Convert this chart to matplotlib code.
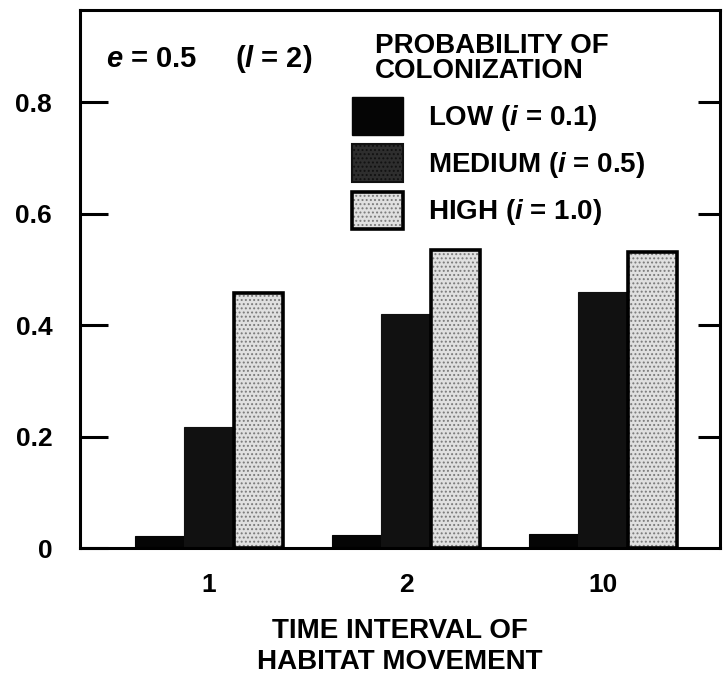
#!/usr/bin/env python3
"""Occupancy vs. time interval of habitat movement, grouped bars (e = 0.5, l = 2)."""

import matplotlib
matplotlib.use("Agg")
import matplotlib.pyplot as plt
import numpy as np
from matplotlib.legend_handler import HandlerTuple

# ── Data ──────────────────────────────────────────────────────────────────────
intervals    = ["1", "2", "10"]
low_vals     = [0.021, 0.024, 0.026]     # i = 0.1
medium_vals  = [0.217, 0.420, 0.460]     # i = 0.5
high_vals    = [0.457, 0.535, 0.531]     # i = 1.0
y_ticks      = [0, 0.2, 0.4, 0.6, 0.8]
y_ticklabels = ["0", "0.2", "0.4", "0.6", "0.8"]

# ── Style ─────────────────────────────────────────────────────────────────────
plt.rcParams["font.family"] = ["Liberation Sans", "DejaVu Sans"]
plt.rcParams["font.weight"] = "bold"
plt.rcParams["axes.labelweight"] = "bold"
plt.rcParams["mathtext.fontset"] = "custom"
plt.rcParams["mathtext.rm"] = "Liberation Sans:bold"
plt.rcParams["mathtext.it"] = "Liberation Sans:italic:bold"
plt.rcParams["hatch.linewidth"] = 0.9
FS      = 20
TICK_FS = 19
BAR_W   = 0.25
SPINE_W = 2.2

fig = plt.figure(figsize=(7.25, 6.78), dpi=100)
ax = fig.add_axes([0.1103, 0.1917, 0.8827, 0.7933])

x = np.arange(len(intervals))

ax.bar(x - BAR_W, low_vals, BAR_W, color="#050505", edgecolor="#050505",
       linewidth=0.8)
ax.bar(x, medium_vals, BAR_W, color="#111111", edgecolor="#111111",
       linewidth=0.8)
# high: stippled fill, then a heavy outline on top
high_fill = ax.bar(x + BAR_W, high_vals, BAR_W, color="#e0e0e0",
                   edgecolor="#7a7a7a", hatch="....", linewidth=0)
high_edge = ax.bar(x + BAR_W, high_vals, BAR_W, fill=False,
                   edgecolor="black", linewidth=2.6)

# ── Axes ──────────────────────────────────────────────────────────────────────
ax.set_xlim(-0.655, 2.594)
ax.set_ylim(0, 0.965)
for sp in ax.spines.values():
    sp.set_linewidth(SPINE_W)

ax.set_xticks(x)
ax.set_xticklabels(intervals, fontsize=TICK_FS)
ax.tick_params(axis="x", length=0, pad=18)

ax.set_yticks(y_ticks)
ax.set_yticklabels(y_ticklabels, fontsize=TICK_FS)
ax.tick_params(axis="y", direction="in", length=20, width=SPINE_W, pad=20)

# unlabeled ticks on the right edge
sec = ax.secondary_yaxis("right")
sec.set_yticks(y_ticks[1:])
sec.set_yticklabels([])
sec.tick_params(direction="in", length=16, width=SPINE_W)
sec.spines["right"].set_visible(False)

ax.set_xlabel("TIME INTERVAL OF\nHABITAT MOVEMENT", fontsize=FS,
              linespacing=1.25, labelpad=15)

# ── Annotations ───────────────────────────────────────────────────────────────
ax.text(0.041, 0.909, "$e$ = 0.5", transform=ax.transAxes,
        fontsize=21, va="center", ha="left")
ax.text(0.242, 0.909, "($l$ = 2)", transform=ax.transAxes,
        fontsize=21, va="center", ha="left")
ax.text(0.461, 0.958, "PROBABILITY OF\nCOLONIZATION", transform=ax.transAxes,
        fontsize=FS, va="top", ha="left", linespacing=0.95)

handles = [
    plt.Rectangle((0, 0), 1, 1, facecolor="#050505", edgecolor="#050505"),
    plt.Rectangle((0, 0), 1, 1, facecolor="#2e2e2e", edgecolor="#111111",
                  hatch="....", linewidth=1.5),
    (high_fill, high_edge),
]
leg = ax.legend(
    handles,
    ["LOW ($i$ = 0.1)", "MEDIUM ($i$ = 0.5)", "HIGH ($i$ = 1.0)"],
    loc="upper left", bbox_to_anchor=(0.425, 0.838),
    frameon=False, fontsize=FS, borderpad=0, borderaxespad=0,
    handlelength=1.85, handleheight=1.71, handletextpad=0.9,
    labelspacing=0.34,
    handler_map={tuple: HandlerTuple(ndivide=1, pad=0)},
)

plt.savefig("out.png", dpi=100)
plt.close()
